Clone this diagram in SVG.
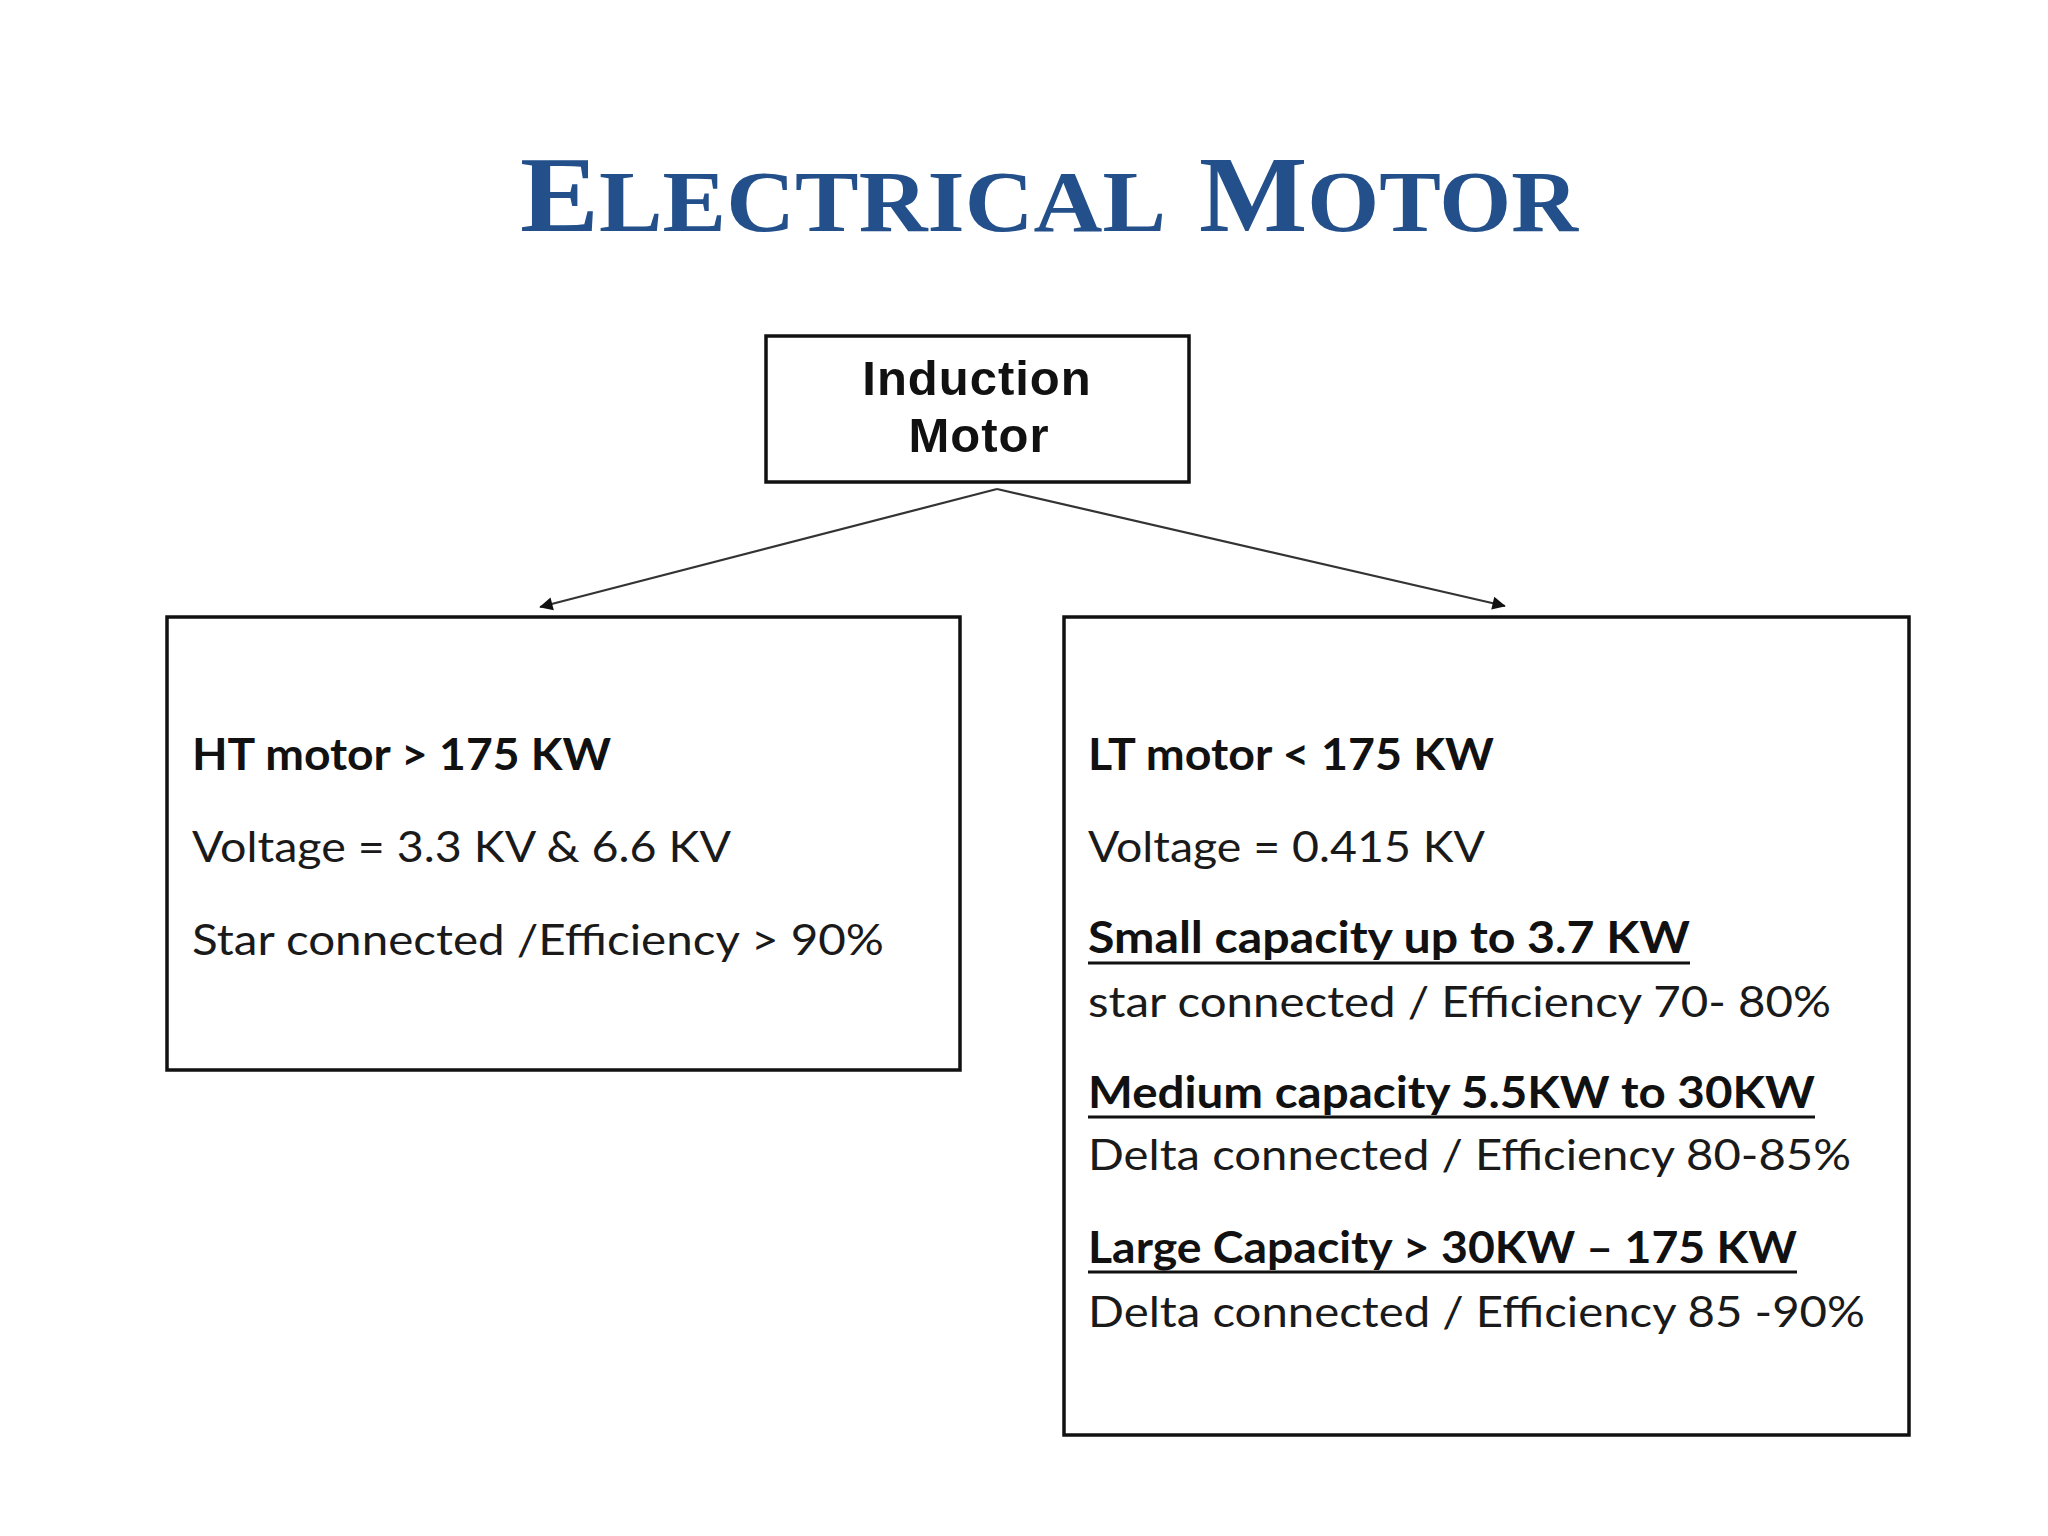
<svg xmlns="http://www.w3.org/2000/svg" width="2048" height="1536" viewBox="0 0 2048 1536">
<defs>
<style>
.box{fill:#fff;stroke:#111;stroke-width:3.5}
.title{font-family:"Liberation Serif",serif;font-weight:bold;fill:#23508A}
.node{font-family:"Liberation Sans",Arial,sans-serif;font-weight:bold;font-size:49px;fill:#111;text-anchor:middle;letter-spacing:1px}
.b{font-family:Lato,"Open Sans",sans-serif;font-weight:bold;font-size:43px;fill:#111}
.r{font-family:Lato,"Open Sans",sans-serif;font-size:43px;fill:#1a1a1a}
.ul{stroke:#111;stroke-width:3}
.conn{stroke:#333;stroke-width:2.2;fill:none}
</style>
<marker id="arr" viewBox="0 0 10 10" refX="9" refY="5" markerWidth="7" markerHeight="7" markerUnits="userSpaceOnUse" orient="auto" overflow="visible">
<path d="M0,0 L10,5 L0,10 z" fill="#111" transform="scale(1.9) translate(-4.7,-2.4)"/>
</marker>
</defs>
<rect width="2048" height="1536" fill="#fff"/>
<g id="title">
<text class="title" x="520" y="231" textLength="646" lengthAdjust="spacingAndGlyphs"><tspan font-size="108">E</tspan><tspan font-size="87">LECTRICAL</tspan></text>
<text class="title" x="1199" y="231" textLength="379" lengthAdjust="spacingAndGlyphs"><tspan font-size="108">M</tspan><tspan font-size="87">OTOR</tspan></text>
</g>
<g id="connectors">
<line class="conn" x1="997" y1="489" x2="540" y2="607" marker-end="url(#arr)"/>
<line class="conn" x1="997" y1="489" x2="1505" y2="606" marker-end="url(#arr)"/>
</g>
<g id="induction-motor">
<rect class="box" x="766" y="336" width="423" height="146"/>
<text class="node" x="977" y="395">Induction</text>
<text class="node" x="979" y="452">Motor</text>
</g>
<g id="ht-motor">
<rect class="box" x="167" y="617" width="793" height="453"/>
<text class="b" x="192" y="770" textLength="419" lengthAdjust="spacingAndGlyphs">HT motor &gt; 175 KW</text>
<text class="r" x="192" y="862" textLength="539" lengthAdjust="spacingAndGlyphs">Voltage = 3.3 KV &amp; 6.6 KV</text>
<text class="r" x="192" y="955" textLength="692" lengthAdjust="spacingAndGlyphs">Star connected /Efficiency &gt; 90%</text>
</g>
<g id="lt-motor">
<rect class="box" x="1064" y="617" width="845" height="818"/>
<text class="b" x="1088" y="770" textLength="406" lengthAdjust="spacingAndGlyphs">LT motor &lt; 175 KW</text>
<text class="r" x="1088" y="862" textLength="397" lengthAdjust="spacingAndGlyphs">Voltage = 0.415 KV</text>
<text class="b" x="1088" y="953" textLength="602" lengthAdjust="spacingAndGlyphs">Small capacity up to 3.7 KW</text>
<line class="ul" x1="1088" y1="963" x2="1690" y2="963"/>
<text class="r" x="1088" y="1017" textLength="743" lengthAdjust="spacingAndGlyphs">star connected / Efficiency 70- 80%</text>
<text class="b" x="1088" y="1108" textLength="727" lengthAdjust="spacingAndGlyphs">Medium capacity 5.5KW to 30KW</text>
<line class="ul" x1="1088" y1="1117" x2="1815" y2="1117"/>
<text class="r" x="1088" y="1170" textLength="763" lengthAdjust="spacingAndGlyphs">Delta connected / Efficiency 80-85%</text>
<text class="b" x="1088" y="1263" textLength="709" lengthAdjust="spacingAndGlyphs">Large Capacity &gt; 30KW – 175 KW</text>
<line class="ul" x1="1088" y1="1272" x2="1797" y2="1272"/>
<text class="r" x="1088" y="1327" textLength="777" lengthAdjust="spacingAndGlyphs">Delta connected / Efficiency 85 -90%</text>
</g>
</svg>
